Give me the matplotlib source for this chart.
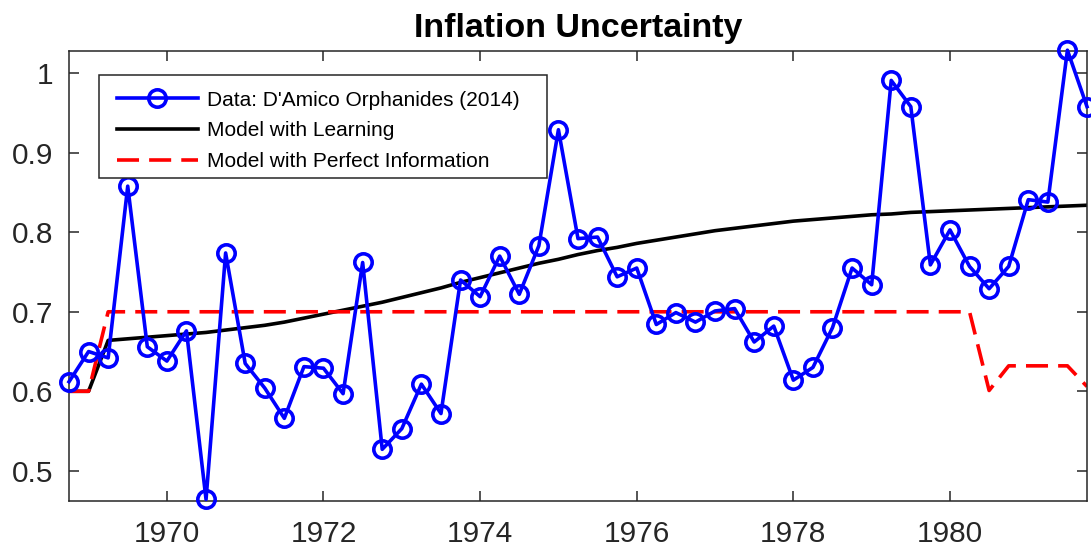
import matplotlib
matplotlib.use("Agg")
import matplotlib.pyplot as plt
from matplotlib.patches import Rectangle
import numpy as np

plt.rcParams['font.family'] = ['Liberation Sans', 'DejaVu Sans']

# quarterly dates 1968Q4 .. 1981Q4
start_year = 1968.75
n_quarters = 53
dates = start_year + 0.25 * np.arange(n_quarters)

data_vals = [0.612, 0.650, 0.642, 0.858, 0.656, 0.638, 0.676, 0.464, 0.774, 0.635,
             0.604, 0.566, 0.631, 0.629, 0.597, 0.762, 0.527, 0.553, 0.609, 0.572,
             0.740, 0.719, 0.770, 0.722, 0.783, 0.929, 0.792, 0.794, 0.744, 0.755,
             0.684, 0.699, 0.687, 0.701, 0.704, 0.662, 0.682, 0.614, 0.630, 0.680,
             0.755, 0.734, 0.991, 0.958, 0.759, 0.803, 0.757, 0.729, 0.757, 0.841,
             0.838, 1.029, 0.958]

learning_vals = [0.600, 0.600, 0.664, 0.666, 0.668, 0.670, 0.672, 0.674, 0.677, 0.680,
                 0.683, 0.687, 0.692, 0.697, 0.702, 0.707, 0.712, 0.718, 0.724, 0.730,
                 0.737, 0.743, 0.749, 0.755, 0.761, 0.766, 0.772, 0.777, 0.781, 0.786,
                 0.790, 0.794, 0.798, 0.802, 0.805, 0.808, 0.811, 0.814, 0.816, 0.818,
                 0.820, 0.822, 0.823, 0.825, 0.826, 0.827, 0.828, 0.829, 0.830, 0.831,
                 0.832, 0.833, 0.834]

perfect_vals = [0.600, 0.600] + [0.700] * 45 + [0.601, 0.632, 0.632, 0.632, 0.632, 0.606]

xticks = [1970, 1972, 1974, 1976, 1978, 1980]
yticks = [0.5, 0.6, 0.7, 0.8, 0.9, 1.0]
ytick_labels = ['0.5', '0.6', '0.7', '0.8', '0.9', '1']

labels = ["Data: D'Amico Orphanides (2014)", "Model with Learning",
          "Model with Perfect Information"]

W, H = 1091, 550
ax_l, ax_r, ax_t, ax_b = 69, 1087, 51, 501
fig = plt.figure(figsize=(W / 100, H / 100), dpi=100)
ax = fig.add_axes([ax_l / W, (H - ax_b) / H, (ax_r - ax_l) / W, (ax_b - ax_t) / H])
aw, ah = ax_r - ax_l, ax_b - ax_t

dark = '#262626'
lw = 2.6
ax.plot(dates, data_vals, color='#0000ff', lw=lw, marker='o', ms=12.5,
        mfc='none', mec='#0000ff', mew=lw, label=labels[0], clip_on=False, zorder=3)
ax.plot(dates, learning_vals, color='black', lw=lw, label=labels[1], zorder=2)
ax.plot(dates, perfect_vals, color='#ff0000', lw=lw, dashes=(6.1, 2.8),
        label=labels[2], zorder=2)

ax.set_xlim(1968.75, 1981.75)
ax.set_ylim(0.462, 1.028)
ax.set_xticks(xticks)
ax.set_xticklabels([str(t) for t in xticks])
ax.set_yticks(yticks)
ax.set_yticklabels(ytick_labels)

ax.tick_params(direction='in', length=7, width=1.1, color=dark, labelcolor=dark,
               labelsize=21.5, top=True, right=True)
ax.tick_params(axis='x', pad=14)
ax.tick_params(axis='y', pad=11)
for s in ax.spines.values():
    s.set_linewidth(1.1)
    s.set_color(dark)

ax.set_title('Inflation Uncertainty', fontsize=24.5, fontweight='bold', pad=10)

# legend frame (MATLAB-style box)
box_l, box_r, box_t, box_b = 99, 547, 75, 178
frame = Rectangle(((box_l - ax_l) / aw, (ax_b - box_b) / ah),
                  (box_r - box_l) / aw, (box_b - box_t) / ah,
                  transform=ax.transAxes, facecolor='white', edgecolor=dark,
                  lw=1.1, zorder=4.5, clip_on=False)
ax.add_patch(frame)

leg = ax.legend(loc='upper left', bbox_to_anchor=((box_l + 2 - ax_l) / aw, 1 - (box_t - ax_t) / ah),
                fontsize=15, frameon=False,
                handlelength=3.9, handletextpad=0.45, borderpad=0.75,
                labelspacing=0.57, borderaxespad=0.0)
leg.set_zorder(5)

fig.savefig('out.png', dpi=100)
